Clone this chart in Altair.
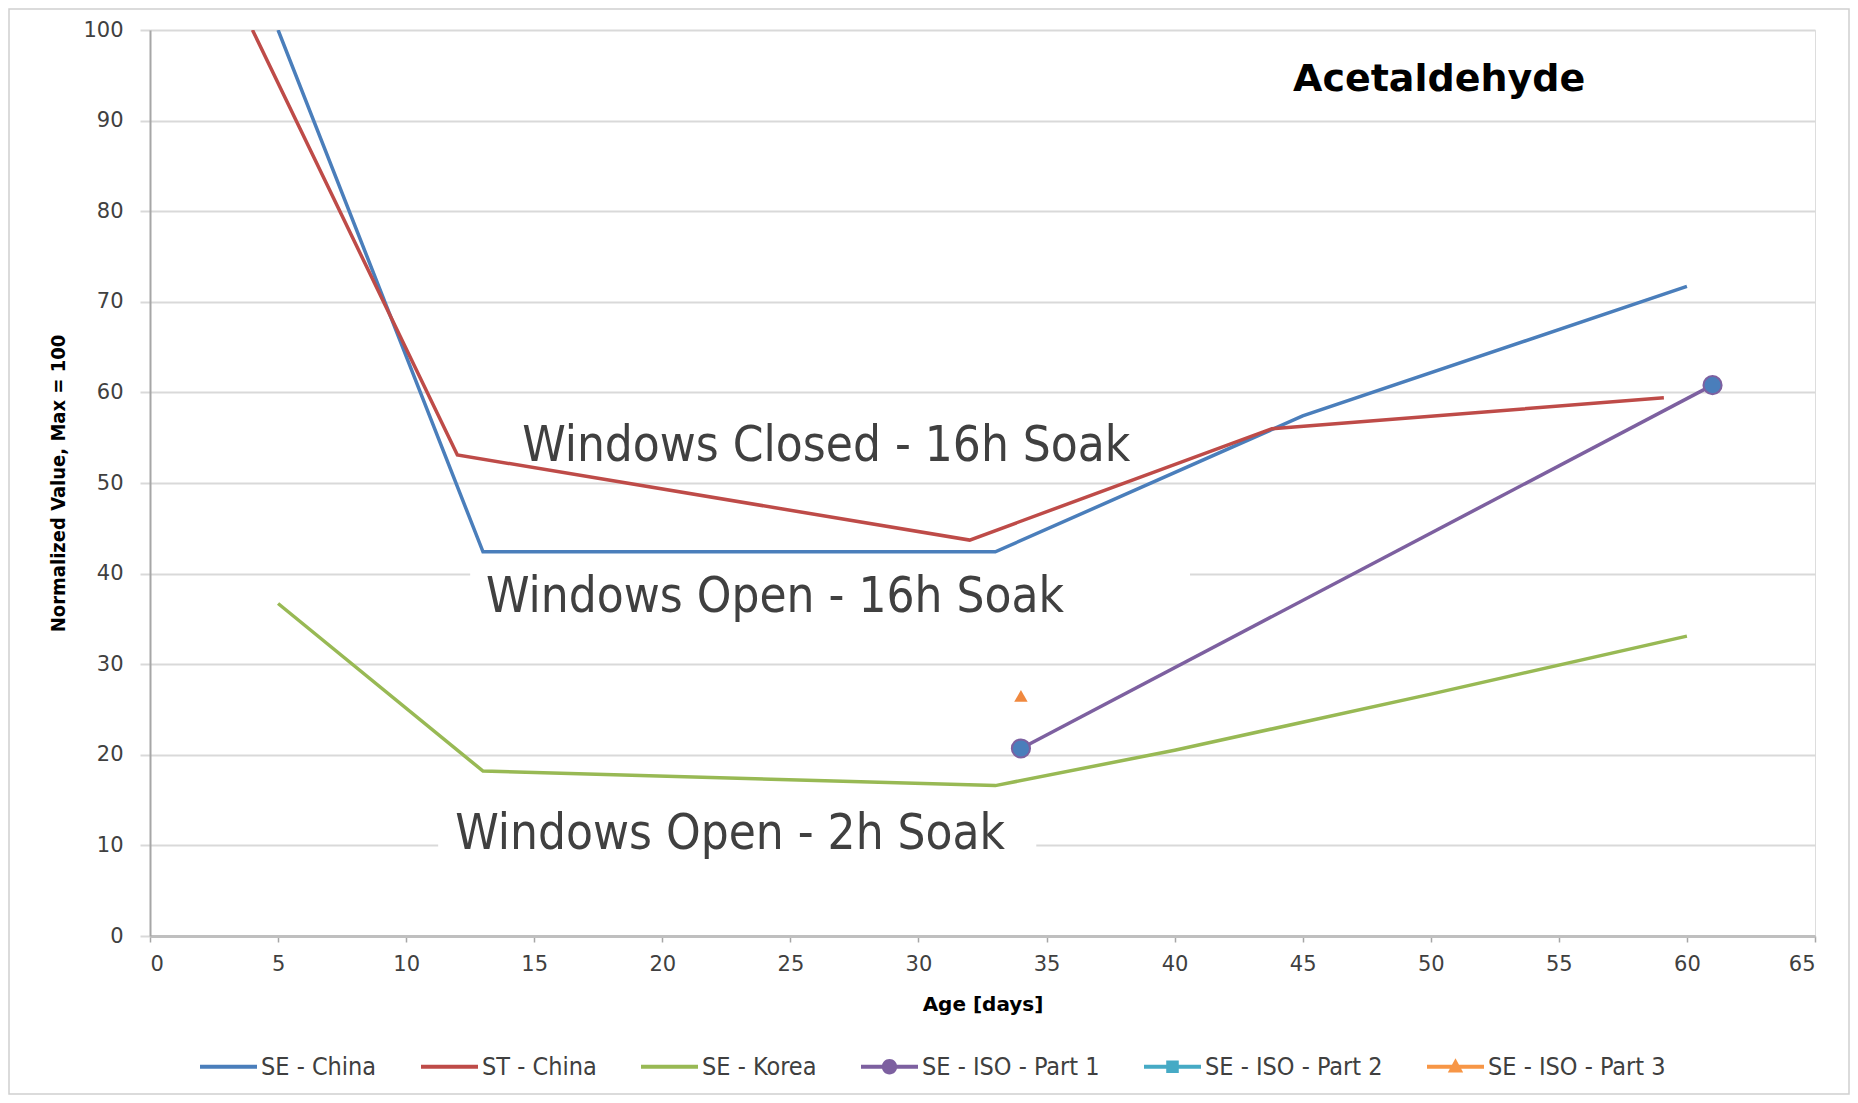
import altair as alt
import pandas as pd

# ---------------- data ----------------
se_china_days = [5, 13, 33, 45, 60]
se_china_vals = [100, 42.4, 42.4, 57.4, 71.7]

st_china_days = [4, 12, 32, 43.8, 59.1]
st_china_vals = [100, 53.1, 43.7, 56.0, 59.4]

se_korea_days = [5, 13, 33, 40, 50, 60]
se_korea_vals = [36.7, 18.2, 16.6, 20.5, 26.7, 33.1]

iso1_days = [34, 61]
iso1_vals = [20.7, 60.8]

iso3_days = [34]
iso3_vals = [26.5]

series_names = ["SE - China", "ST - China", "SE - Korea",
                "SE - ISO - Part 1", "SE - ISO - Part 2", "SE - ISO - Part 3"]
series_colors = ["#4A7EBB", "#BE4B48", "#98B954", "#7D60A0", "#46AAC5", "#F79646"]

x_ticks = list(range(0, 70, 5))
y_ticks = list(range(0, 110, 10))

annot_text = ["Windows Closed - 16h Soak", "Windows Open - 16h Soak", "Windows Open - 2h Soak"]
annot_day = [26.4, 24.4, 22.65]
annot_val = [54.1, 37.4, 11.25]

# white label boxes that hide the gridlines behind two of the annotations
box_day1 = [12.5, 11.25]
box_day2 = [40.6, 34.6]
box_val1 = [33.5, 7.0]
box_val2 = [40.8, 15.0]

# ---------------- tables ----------------
rows = []
for name, ds, vs in [("SE - China", se_china_days, se_china_vals),
                     ("ST - China", st_china_days, st_china_vals),
                     ("SE - Korea", se_korea_days, se_korea_vals),
                     ("SE - ISO - Part 1", iso1_days, iso1_vals)]:
    for d, v in zip(ds, vs):
        rows.append({"line_series": name, "day": d, "value": v})
lines_df = pd.DataFrame(rows)

iso1_df = pd.DataFrame({"day": iso1_days, "value": iso1_vals})
iso3_df = pd.DataFrame({"day": iso3_days, "value": iso3_vals})
annot_df = pd.DataFrame({"text": annot_text, "day": annot_day, "value": annot_val})
box_df = pd.DataFrame({"d1": box_day1, "d2": box_day2, "v1": box_val1, "v2": box_val2})
legend_df = pd.DataFrame({"series": series_names, "day": [-50] * 6, "value": [50] * 6})
frame_df = pd.DataFrame({"k": [0]})

LINE = "M-1,-0.07H1V0.07H-1Z"
CIRC = LINE + " M-0.27,0A0.27,0.27 0 1,1 0.27,0A0.27,0.27 0 1,1 -0.27,0Z"
SQR = LINE + " M-0.22,-0.22H0.22V0.22H-0.22Z"
TRI = LINE + " M0,-0.3L0.27,0.2H-0.27Z"
legend_shapes = [LINE, LINE, LINE, CIRC, SQR, TRI]

NARROW = "Liberation Sans Narrow, Arial Narrow, DejaVu Sans Condensed, Liberation Sans, sans-serif"

W, H = 1665, 906
PAD = {"left": 142, "top": 22, "right": 35, "bottom": 159}

x_scale = alt.Scale(domain=[0, 65], nice=False, zero=False)
y_scale = alt.Scale(domain=[0, 100], nice=False)

x_axis = alt.Axis(values=x_ticks, grid=False, domainColor="#BFBFBF", domainWidth=3,
                  tickColor="#A6A6A6", tickSize=6, tickWidth=1.5,
                  labelFont="DejaVu Sans", labelFontSize=21, labelColor="#404040",
                  labelPadding=11, title="Age [days]", titleFont="DejaVu Sans",
                  titleFontSize=20, titleFontWeight="bold", titleColor="#000000",
                  titleY=74, titleBaseline="alphabetic")
y_axis = alt.Axis(values=y_ticks, grid=True, gridColor="#D9D9D9", gridWidth=2,
                  domainColor="#A6A6A6", domainWidth=2, tickColor="#D9D9D9",
                  tickSize=10, tickWidth=2, labelFont="DejaVu Sans", labelFontSize=21,
                  labelColor="#404040", labelPadding=17,
                  title="Normalized Value, Max = 100", titleFont=NARROW,
                  titleFontSize=20, titleFontWeight="bold", titleColor="#000000",
                  titleX=-86, titleY=453, titleBaseline="alphabetic")

X = alt.X("day:Q", scale=x_scale, axis=x_axis)
Y = alt.Y("value:Q", scale=y_scale, axis=y_axis)

frame = alt.Chart(frame_df).mark_rect(filled=False, stroke="#D0D0D0", strokeWidth=1.5).encode(
    x=alt.value(-PAD["left"] + 1), x2=alt.value(W + PAD["right"] - 1),
    y=alt.value(-PAD["top"] + 1), y2=alt.value(H + PAD["bottom"] - 1))

boxes = alt.Chart(box_df).mark_rect(color="white").encode(
    x=alt.X("d1:Q", scale=x_scale, axis=x_axis), x2="d2:Q",
    y=alt.Y("v1:Q", scale=y_scale, axis=y_axis), y2="v2:Q")

lines = alt.Chart(lines_df).mark_line(strokeWidth=3.5, clip=True).encode(
    x=X, y=Y,
    color=alt.Color("line_series:N", scale=alt.Scale(domain=series_names, range=series_colors),
                    legend=None))

iso1_pts = alt.Chart(iso1_df).mark_point(shape="circle", filled=True, fill="#4A7EBB",
                                         stroke="#7D60A0", strokeWidth=2, size=330,
                                         opacity=1).encode(x=X, y=Y)
iso3_pts = alt.Chart(iso3_df).mark_point(shape="triangle-up", filled=True, color="#F0883E",
                                         size=180, opacity=1).encode(x=X, y=Y)

texts = alt.Chart(annot_df).mark_text(font=NARROW, fontSize=49, color="#404040",
                                      align="center", baseline="middle").encode(
    x=X, y=Y, text="text:N")

leg = alt.Legend(title=None, orient="none", legendX=50, legendY=1008,
                 direction="horizontal", columns=6, columnPadding=44,
                 labelOffset=4, labelFont=NARROW, labelFontSize=25,
                 labelColor="#404040", labelLimit=400,
                 symbolSize=3249, symbolStrokeWidth=0)

legend_layer = alt.Chart(legend_df).mark_point(filled=True, clip=True, size=3249,
                                               opacity=1).encode(
    x=X, y=Y,
    color=alt.Color("series:N", scale=alt.Scale(domain=series_names, range=series_colors),
                    legend=leg),
    shape=alt.Shape("series:N", scale=alt.Scale(domain=series_names, range=legend_shapes),
                    legend=leg))

chart = alt.layer(frame, boxes, lines, iso1_pts, iso3_pts, texts, legend_layer).resolve_scale(
    color="independent", shape="independent"
).properties(
    width=W, height=H,
    autosize=alt.AutoSizeParams(type="none"),
    padding=PAD,
    title=alt.TitleParams("Acetaldehyde", font="DejaVu Sans", fontSize=38, fontWeight="bold",
                          color="#000000", anchor="start", frame="group", offset=0,
                          baseline="alphabetic", dx=1143, dy=121),
).configure_view(stroke=None).configure(background="white")

chart.save("out.html", embed_options={"renderer": "svg", "actions": False})
